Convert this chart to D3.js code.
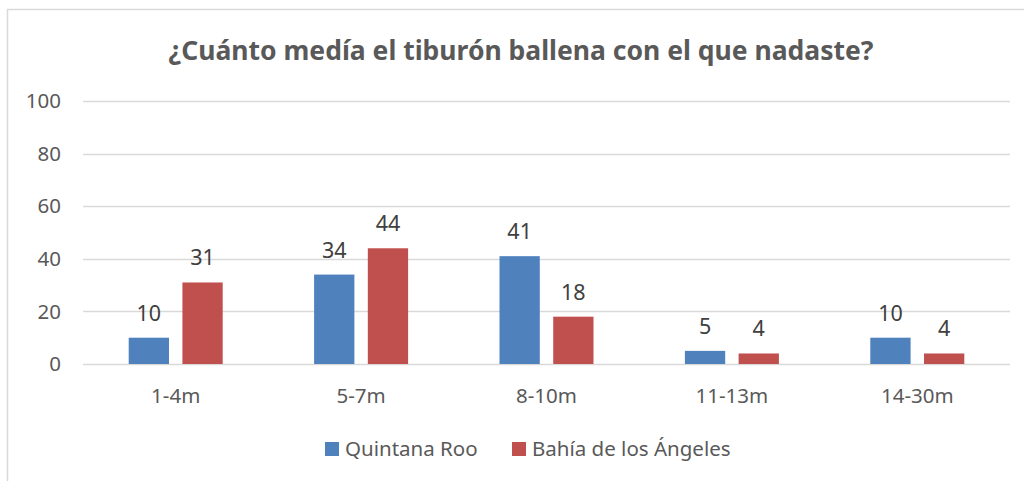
<!DOCTYPE html>
<html>
<head>
<meta charset="utf-8">
<script src="https://cdn.jsdelivr.net/npm/d3@7"></script>
<style>
  body { margin: 0; background: #fff; }
  svg { display: block; font-family: "Noto Sans", "Open Sans", sans-serif; }
</style>
</head>
<body>
<div id="chart"></div>
<script>
// Data
var categories = ["1-4m", "5-7m", "8-10m", "11-13m", "14-30m"];
var seriesNames = ["Quintana Roo", "Bahía de los Ángeles"];
var quintanaRoo = [10, 34, 41, 5, 10];
var bahiaAngeles = [31, 44, 18, 4, 4];
var yTicks = [0, 20, 40, 60, 80, 100];
var colors = ["#4F81BD", "#C0504D"];

var width = 1024, height = 481;
var margin = {left: 83, top: 101, right: 14, bottom: 117};

var svg = d3.select("#chart").append("svg")
  .attr("width", width)
  .attr("height", height);

// chart frame (clipped on right and bottom like the reference)
svg.append("rect")
  .attr("x", 7.5).attr("y", 9.5)
  .attr("width", 1040).attr("height", 500)
  .attr("fill", "none")
  .attr("stroke", "#D9D9D9")
  .attr("stroke-width", 1.5);

// Title
svg.append("text")
  .attr("x", 521).attr("y", 60)
  .attr("text-anchor", "middle")
  .attr("font-size", 26.5)
  .attr("font-weight", "bold")
  .attr("fill", "#595959")
  .text("¿Cuánto medía el tiburón ballena con el que nadaste?");

var x = d3.scaleBand()
  .domain(categories)
  .range([margin.left, width - margin.right]);

var y = d3.scaleLinear()
  .domain([0, 100])
  .range([height - margin.bottom, margin.top]);

var inner = d3.scaleBand()
  .domain([0, 1])
  .range([0, 94])
  .paddingInner(0.25);

// gridlines
svg.append("g")
  .selectAll("line")
  .data(yTicks)
  .enter()
  .append("line")
  .attr("x1", margin.left)
  .attr("x2", width - margin.right)
  .attr("y1", function(d){ return Math.round(y(d)) + 0.5; })
  .attr("y2", function(d){ return Math.round(y(d)) + 0.5; })
  .attr("stroke", "#D9D9D9")
  .attr("stroke-width", 1.5);

// y tick labels
svg.append("g")
  .selectAll("text")
  .data(yTicks)
  .enter()
  .append("text")
  .attr("x", 61)
  .attr("y", function(d){ return y(d); })
  .attr("dy", "0.35em")
  .attr("text-anchor", "end")
  .attr("font-size", 20.5)
  .attr("fill", "#595959")
  .text(function(d){ return d; });

// x labels
svg.append("g")
  .selectAll("text")
  .data(categories)
  .enter()
  .append("text")
  .attr("x", function(d){ return x(d) + x.bandwidth()/2; })
  .attr("y", 403)
  .attr("text-anchor", "middle")
  .attr("font-size", 20.5)
  .attr("fill", "#595959")
  .text(function(d){ return d; });

var series = [quintanaRoo, bahiaAngeles];
var groups = svg.selectAll(".series")
  .data(series)
  .enter()
  .append("g")
  .attr("class", "series");

groups.each(function(values, s){
  var g = d3.select(this);
  var rows = values.map(function(v, i){ return {cat: categories[i], v: v}; });

  g.selectAll("rect")
    .data(rows)
    .enter()
    .append("rect")
    .attr("x", function(d){ return x(d.cat) + x.bandwidth()/2 - 47 + inner(s); })
    .attr("y", function(d){ return y(d.v); })
    .attr("width", inner.bandwidth())
    .attr("height", function(d){ return y(0) - y(d.v); })
    .attr("fill", colors[s]);

  g.selectAll("text")
    .data(rows)
    .enter()
    .append("text")
    .attr("x", function(d){ return x(d.cat) + x.bandwidth()/2 - 47 + inner(s) + inner.bandwidth()/2; })
    .attr("y", function(d){ return y(d.v) - 17; })
    .attr("text-anchor", "middle")
    .attr("font-size", 21.5)
    .attr("fill", "#404040")
    .text(function(d){ return d.v; });
});

// legend
var legendX = [325, 512];
var legend = svg.selectAll(".legend")
  .data(seriesNames)
  .enter()
  .append("g")
  .attr("class", "legend")
  .attr("transform", function(d, i){ return "translate(" + legendX[i] + ",442)"; });

legend.append("rect")
  .attr("width", 14).attr("height", 14)
  .attr("fill", function(d, i){ return colors[i]; });

legend.append("text")
  .attr("x", 20).attr("y", 7)
  .attr("dy", "0.35em")
  .attr("font-size", 20.5)
  .attr("fill", "#595959")
  .text(function(d){ return d; });
</script>
</body>
</html>
